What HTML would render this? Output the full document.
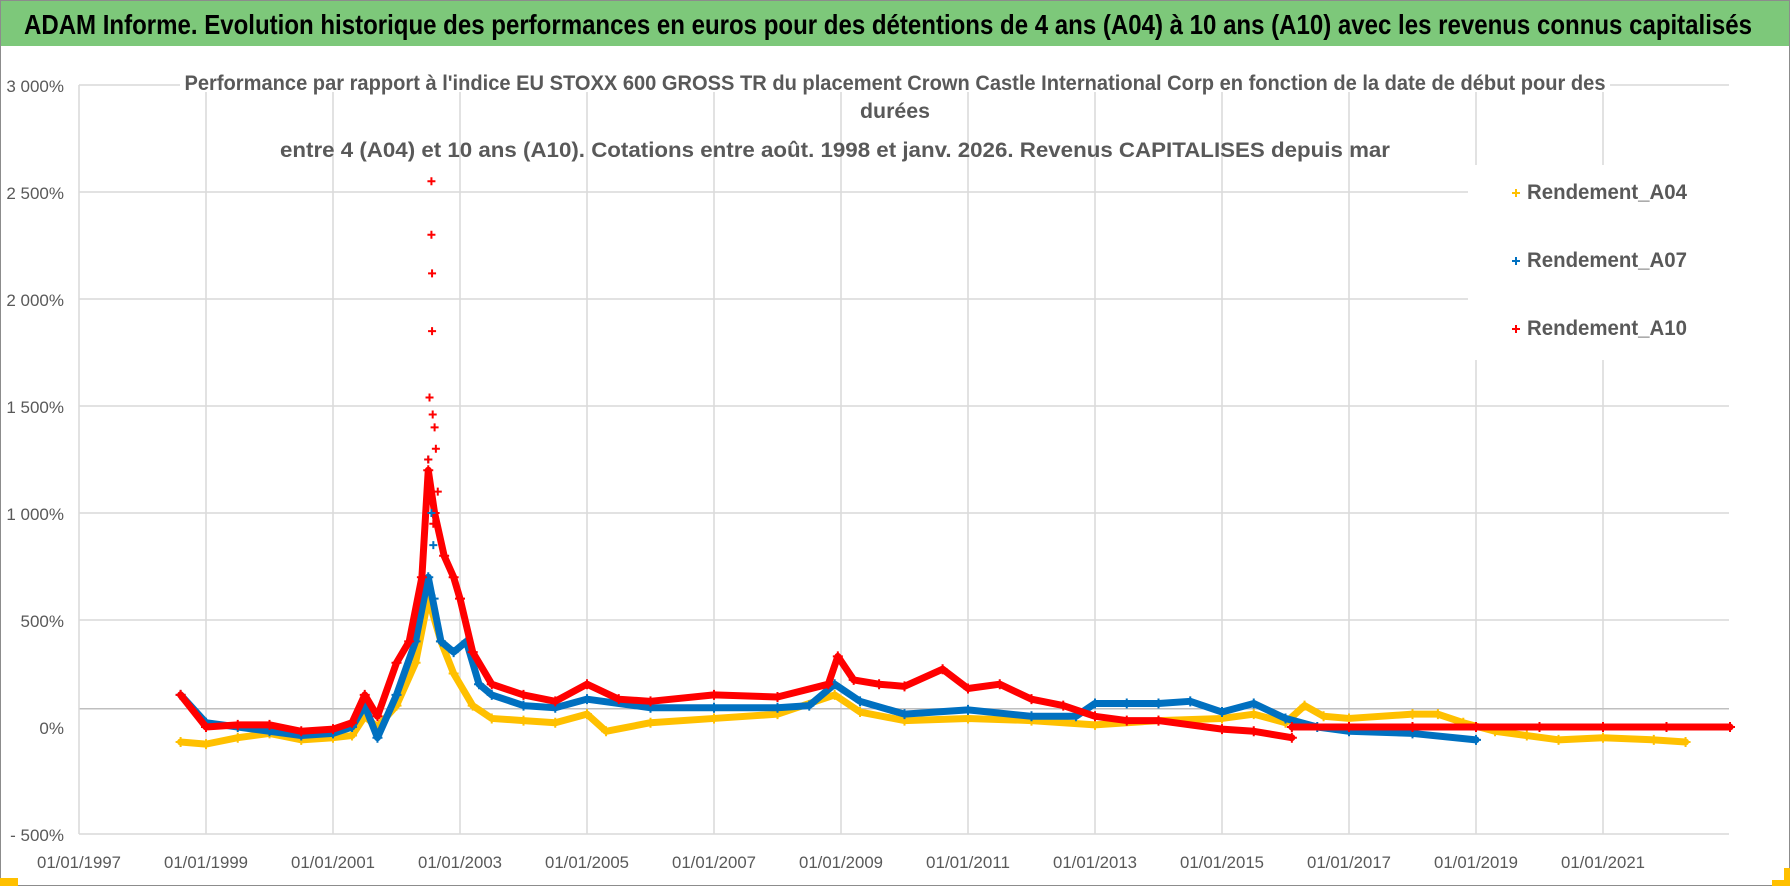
<!DOCTYPE html>
<html><head><meta charset="utf-8"><style>
html,body{margin:0;padding:0;background:#fff;}
body{width:1790px;height:886px;overflow:hidden;position:relative;font-family:"Liberation Sans",sans-serif;}
#frame{position:absolute;left:0;top:0;width:1788px;height:884px;border:1px solid #8c8c8c;}
#header{position:absolute;left:1px;top:1px;width:1788px;height:45px;background:#7dc87a;border-bottom:2px solid #fff;}
svg{position:absolute;left:0;top:0;}
</style></head><body>
<div id="frame"></div>
<div id="header"></div>
<svg id="chart" width="1790" height="886">
<text x="24" y="34" font-size="28" font-weight="bold" fill="#000" textLength="1728" lengthAdjust="spacingAndGlyphs" font-family="Liberation Sans, sans-serif">ADAM Informe. Evolution historique des performances en euros pour des détentions de 4 ans (A04) à 10 ans (A10) avec les revenus connus capitalisés</text>
</svg>
<script>
const yTicks=[-500,0,500,1000,1500,2000,2500,3000];
const yTickLabels=["- 500%","0%","500%","1 000%","1 500%","2 000%","2 500%","3 000%"];
const xTicks=[1997,1999,2001,2003,2005,2007,2009,2011,2013,2015,2017,2019,2021];
const xTickLabels=["01/01/1997","01/01/1999","01/01/2001","01/01/2003","01/01/2005","01/01/2007","01/01/2009","01/01/2011","01/01/2013","01/01/2015","01/01/2017","01/01/2019","01/01/2021"];
const a04Dates=[1998.6,1999,1999.5,2000,2000.5,2001,2001.3,2001.5,2001.7,2002,2002.3,2002.5,2002.7,2002.9,2003.2,2003.5,2004,2004.5,2005,2005.3,2006,2007,2008,2008.9,2009.3,2010,2011,2012,2013,2014,2015,2015.5,2016,2016.3,2016.6,2017,2018,2018.4,2018.8,2019.3,2019.8,2020.3,2021,2021.8,2022.3];
const a04Values=[-70,-80,-50,-30,-60,-50,-40,50,0,100,300,600,400,250,100,40,30,20,60,-20,20,40,60,150,70,30,40,30,10,30,40,60,20,100,50,40,60,60,20,-20,-40,-60,-50,-60,-70];
const a07Dates=[1998.6,1999,1999.5,2000,2000.5,2001,2001.3,2001.5,2001.7,2002,2002.3,2002.5,2002.7,2002.9,2003.1,2003.3,2003.5,2004,2004.5,2005,2006,2007,2008,2008.5,2008.9,2009.3,2010,2011,2012,2012.7,2013,2013.5,2014,2014.5,2015,2015.5,2016,2016.5,2017,2018,2019];
const a07Values=[150,20,0,-20,-40,-30,0,100,-50,150,400,700,400,350,400,200,150,100,90,130,90,90,90,100,200,120,60,80,50,50,110,110,110,120,70,110,40,0,-20,-30,-60];
const a10Dates=[1998.6,1999,1999.5,2000,2000.5,2001,2001.3,2001.5,2001.7,2002,2002.2,2002.4,2002.5,2002.6,2002.75,2002.9,2003,2003.2,2003.5,2004,2004.5,2005,2005.5,2006,2007,2008,2008.8,2008.95,2009.2,2009.6,2010,2010.6,2011,2011.5,2012,2012.5,2013,2013.5,2014,2015,2015.5,2016.1];
const a10Values=[150,0,10,10,-20,-10,20,150,50,300,400,700,1200,1000,800,700,600,350,200,150,120,200,130,120,150,140,200,330,220,200,190,270,180,200,130,100,50,30,30,-10,-20,-50];
const a10FlatDates=[2016.1,2017,2018,2019,2020,2021,2022,2023];
const a10FlatValues=[0,0,0,0,0,0,0,0];
const a10SpikeDates=[2002.55,2002.55,2002.56,2002.56,2002.52,2002.57,2002.6,2002.62,2002.5,2002.65,2002.58];
const a10SpikeValues=[2550,2300,2120,1850,1540,1460,1400,1300,1250,1100,950];
const a07SpikeDates=[2002.5,2002.55,2002.58,2002.6];
const a07SpikeValues=[1250,1000,850,600];

const NS="http://www.w3.org/2000/svg";
const svg=document.getElementById('chart');
const X0=79,X1=1729;
const FONT='"Liberation Sans", sans-serif';
function xs(yr){return X0+(yr-1997)*63.5;}
function ys(v){return 727-v*0.214;}
function el(t,a,p){const e=document.createElementNS(NS,t);for(const k in a)e.setAttribute(k,a[k]);(p||svg).appendChild(e);return e;}

const gGrid=el('g',{});


xTicks.forEach((t,i)=>{if(i===0)return;const l=el('line',{x1:xs(t),x2:xs(t),y1:ys(3000),y2:ys(-500),stroke:'#d9d9d9','stroke-width':1.5},gGrid);

});
yTicks.forEach(t=>{if(t===0)return;const l=el('line',{x1:X0,x2:X1,y1:ys(t),y2:ys(t),stroke:'#d9d9d9','stroke-width':1.5},gGrid);

});
const ref=el('line',{x1:X0,x2:X1,y1:ys(85),y2:ys(85),stroke:'#bfbfbf','stroke-width':1.5});


const yAx=el('line',{x1:X0,x2:X0,y1:ys(3000),y2:ys(-500),stroke:'#d9d9d9','stroke-width':1.5});



yTicks.forEach((t,i)=>{const tx=el('text',{x:64,y:ys(t)+7,'text-anchor':'end','font-size':17,fill:'#595959','font-family':FONT});tx.textContent=yTickLabels[i];

});
xTicks.forEach((t,i)=>{const tx=el('text',{x:xs(t),y:868,'text-anchor':'middle','font-size':17,fill:'#595959','font-family':FONT,textLength:84,lengthAdjust:'spacingAndGlyphs'});tx.textContent=xTickLabels[i];

});

el('rect',{x:180,y:64,width:1430,height:28,fill:'#fff'});
const titleLines=["Performance par rapport à l'indice EU STOXX 600 GROSS TR  du placement Crown Castle International Corp en fonction de la date de début pour des","durées","entre 4 (A04) et 10 ans (A10). Cotations entre août. 1998 et janv. 2026. Revenus CAPITALISES depuis mar"];
const titleY=[90,118,157];
const titleX=[895,895,835];
const titleW=[1421,70,1110];
titleY.forEach((y,i)=>{const tx=el('text',{x:titleX[i],y:y,'text-anchor':'middle','font-size':21,'font-weight':'bold',fill:'#595959','font-family':FONT,textLength:titleW[i],lengthAdjust:'spacingAndGlyphs'});tx.textContent=titleLines[i];

});

function plus(g,x,y,c,s){el('path',{d:`M${x-s} ${y}H${x+s}M${x} ${y-s}V${y+s}`,stroke:c,'stroke-width':2},g);}
function series(name,dates,vals,color){
  const g=el('g',{});
  
  
  const pts=dates.map((d,i)=>xs(d)+','+ys(vals[i])).join(' ');
  el('polyline',{points:pts,fill:'none',stroke:color,'stroke-width':7,'stroke-linejoin':'round','stroke-linecap':'round'},g);
  dates.forEach((d,i)=>plus(g,xs(d),ys(vals[i]),color,5));
  return g;
}
series('series-a04',a04Dates,a04Values,'#FFC000');
series('series-a07',a07Dates,a07Values,'#0070C0');
series('series-a10',a10Dates,a10Values,'#FF0000');
series('series-a10-flat',a10FlatDates,a10FlatValues,'#FF0000');
const gs=el('g',{});


a07SpikeDates.forEach((d,i)=>plus(gs,xs(d),ys(a07SpikeValues[i]),'#0070C0',4));
a10SpikeDates.forEach((d,i)=>plus(gs,xs(d),ys(a10SpikeValues[i]),'#FF0000',4));

el('rect',{x:1468,y:165,width:262,height:195,fill:'#fff'});
const legNames=['Rendement_A04','Rendement_A07','Rendement_A10'];
const legCols=['#FFC000','#0070C0','#FF0000'];
[191,259,327].forEach((y,i)=>{const g=el('g',{});


plus(g,1516,y+2,legCols[i],4);
const tx=el('text',{x:1527,y:y+8,'font-size':21,'font-weight':'bold',fill:'#595959','font-family':FONT,textLength:160,lengthAdjust:'spacingAndGlyphs'},g);tx.textContent=legNames[i];});

el('rect',{x:0,y:878,width:18,height:8,fill:'#FFC000'});
el('rect',{x:1784,y:868,width:6,height:18,fill:'#FFC000'});
el('rect',{x:1772,y:880,width:18,height:6,fill:'#FFC000'});
</script>
</body></html>
